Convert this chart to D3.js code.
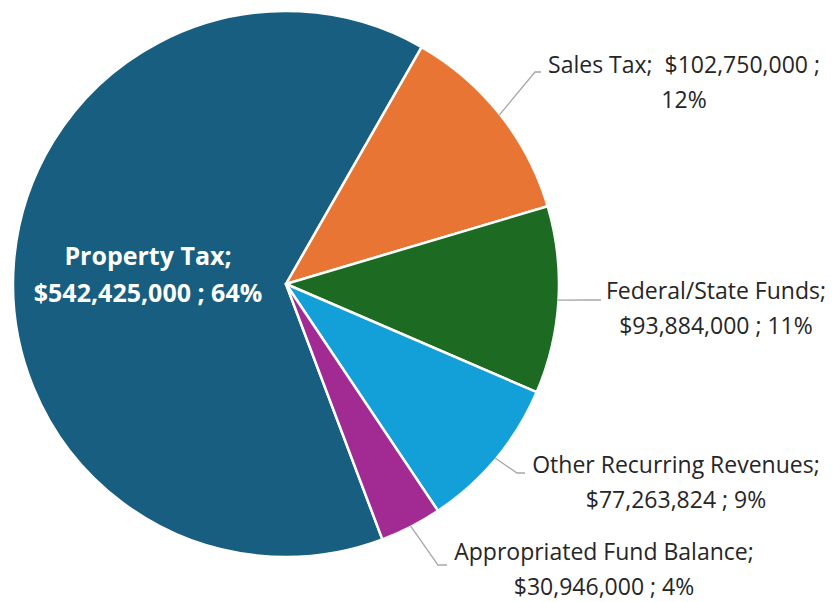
<!DOCTYPE html>
<html>
<head>
<meta charset="utf-8">
<script src="https://cdn.jsdelivr.net/npm/d3@7"></script>
<style>
  html, body { margin: 0; padding: 0; background: #fff; }
  svg { display: block; }
</style>
</head>
<body>
<svg id="chart" width="833" height="602"></svg>
<script>
// ---- data ----
const categories = ["Property Tax", "Sales Tax", "Federal/State Funds", "Other Recurring Revenues", "Appropriated Fund Balance"];
const values = [542425000, 102750000, 93884000, 77263824, 30946000];
const percentLabels = ["64%", "12%", "11%", "9%", "4%"];
const amountLabels = ["$542,425,000", "$102,750,000", "$93,884,000", "$77,263,824", "$30,946,000"];
const colors = ["#175E80", "#E87533", "#1D6B22", "#139FD7", "#A12B92"];

// label text lines
const labelLines = [
  [categories[0] + ";", amountLabels[0] + " ; " + percentLabels[0]],
  [categories[1] + ";\u00A0\u00A0" + amountLabels[1] + " ;", percentLabels[1]],
  [categories[2] + ";", amountLabels[2] + " ; " + percentLabels[2]],
  [categories[3] + ";", amountLabels[3] + " ; " + percentLabels[3]],
  [categories[4] + ";", amountLabels[4] + " ; " + percentLabels[4]]
];

// layout (label anchor centres, leader elbows)
const labelPos = [
  {x: 148, y: 265},
  {x: 684, y: 73},
  {x: 716, y: 299},
  {x: 676, y: 473},
  {x: 604, y: 560}
];
const leaderElbow = [null, {x: 535, y: 72}, {x: 590, y: 300}, {x: 517, y: 473}, {x: 438, y: 565}];
const leaderEnd   = [null, {x: 541, y: 72}, {x: 601, y: 300}, {x: 525, y: 473}, {x: 447, y: 565}];

const svg = d3.select("#chart");
const cx = 286, cy = 284, R = 273;
const total = d3.sum(values);
const salesStart = 29.8 * Math.PI / 180;
const start = salesStart - values[0] / total * 2 * Math.PI;

const pie = d3.pie().sort(null).startAngle(start).endAngle(start + 2 * Math.PI);
const arcs = pie(values);
const arc = d3.arc().innerRadius(0).outerRadius(R);

const g = svg.append("g").attr("transform", `translate(${cx},${cy})`);
g.selectAll("path.slice")
  .data(arcs)
  .join("path")
  .attr("class", "slice")
  .attr("d", arc)
  .attr("fill", (d, i) => colors[i])
  .attr("stroke", "#fff")
  .attr("stroke-width", 2.5)
  .attr("stroke-linejoin", "round");

// leader lines
arcs.forEach((d, i) => {
  if (!leaderElbow[i]) return;
  const a = (d.startAngle + d.endAngle) / 2;
  const r0 = R - 1;
  const sx = cx + Math.sin(a) * r0, sy = cy - Math.cos(a) * r0;
  svg.append("polyline")
    .attr("points", `${sx},${sy} ${leaderElbow[i].x},${leaderElbow[i].y} ${leaderEnd[i].x},${leaderEnd[i].y}`)
    .attr("fill", "none")
    .attr("stroke", "#A6A6A6")
    .attr("stroke-width", 1.3);
});

// labels
labelLines.forEach((lines, i) => {
  const t = svg.append("text")
    .attr("text-anchor", "middle")
    .attr("font-family", "'Open Sans', 'Noto Sans', sans-serif")
    .attr("font-size", i === 0 ? 25 : 23)
    .attr("font-weight", i === 0 ? 700 : 400)
    .attr("fill", i === 0 ? "#fff" : "#262626");
  lines.forEach((ln, j) => {
    t.append("tspan")
      .attr("x", labelPos[i].x)
      .attr("y", labelPos[i].y + j * (i === 0 ? 37 : 35))
      .text(ln);
  });
});
</script>
</body>
</html>
